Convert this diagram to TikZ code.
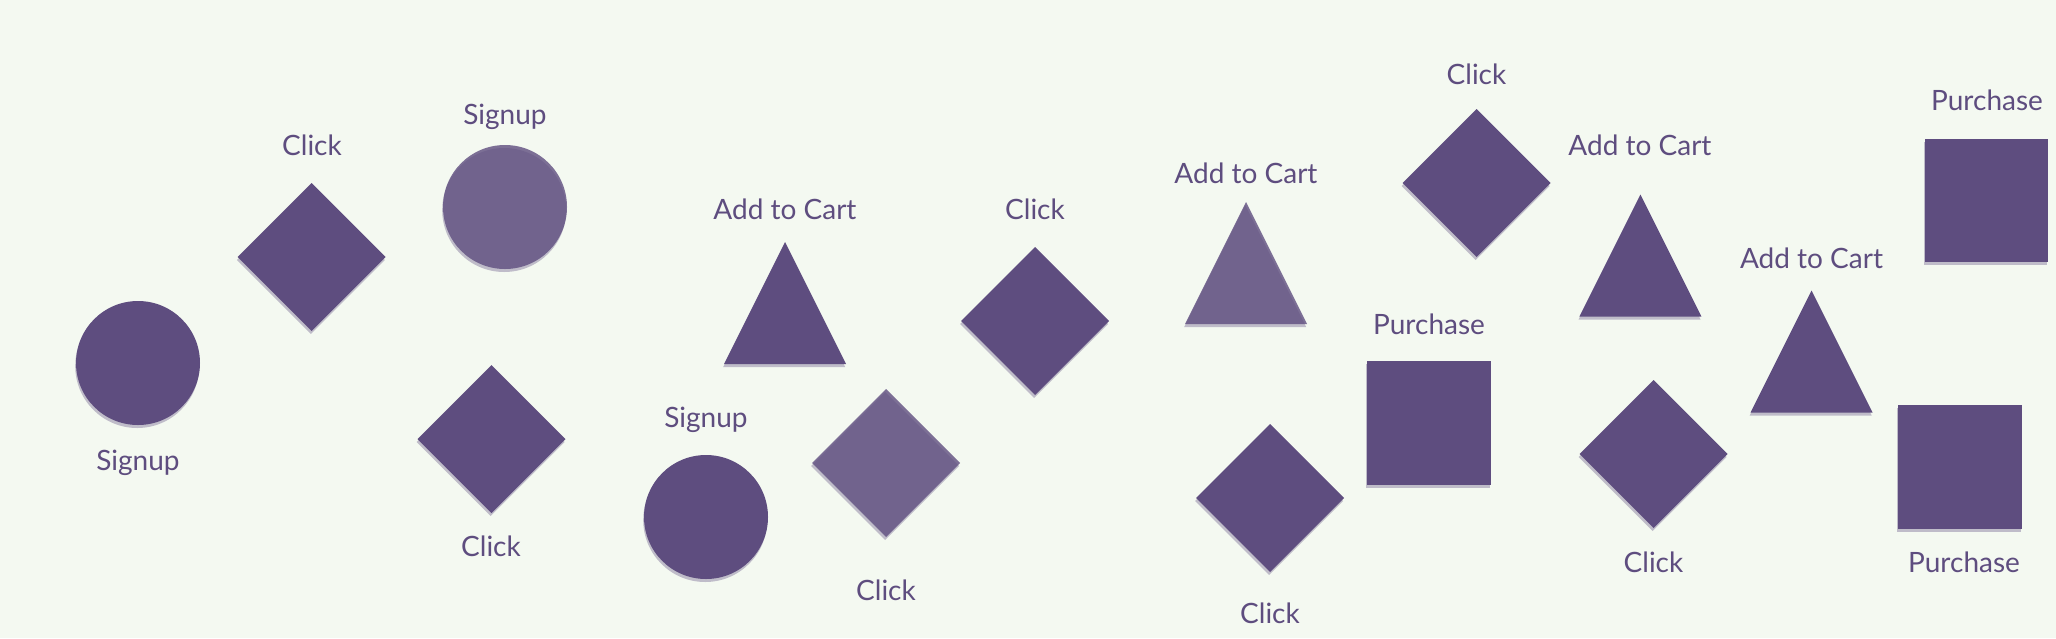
\documentclass[tikz,border=0pt]{standalone}
\usepackage{fontspec}
\setmainfont{Lato}
\usetikzlibrary{shadows}
\definecolor{bg}{HTML}{F4F9F1}
\definecolor{ink}{HTML}{5E4D7F}
\tikzset{
  shp/.style={fill=ink, draw=none,
    drop shadow={shadow xshift=-0.8pt, shadow yshift=-3pt, opacity=0.35, fill=ink}},
  faded/.style={fill opacity=0.8},
  lbl/.style={text=ink, font=\fontsize{28}{32}\selectfont, anchor=base, inner sep=0pt}
}
\newcommand\Dia[3][]{\fill[shp,#1] (#2,#3) ++(0,-74) -- ++(74,74) -- ++(-74,74) -- ++(-74,-74) -- cycle;}
\newcommand\Tri[3][]{\fill[shp,#1] (#2,#3) -- ++(61,122) -- ++(-122,0) -- cycle;}
\newcommand\Circ[3][]{\fill[shp,#1] (#2,#3) circle (62);}
\begin{document}
\begin{tikzpicture}[x=1pt,y=-1pt]
\fill[bg] (0,0) rectangle (2056,638);
\useasboundingbox (0,0) rectangle (2056,638);
% circles
\Circ{138}{363}
\Circ[faded]{505}{207}
\Circ{706}{517}
% diamonds
\Dia{311.6}{257}
\Dia{491.5}{439}
\Dia[faded]{886}{463}
\Dia{1035}{321}
\Dia{1270}{498}
\Dia{1476.5}{183}
\Dia{1653.5}{454}
% triangles
\Tri{785}{242}
\Tri[faded]{1246}{202}
\Tri{1640.4}{194.5}
\Tri{1811.5}{290.5}
% squares
\fill[shp] (1925,139) rectangle (2048,262);
\fill[shp] (1367,361) rectangle (1491,485);
\fill[shp] (1898,405) rectangle (2022,529);
% labels
\node[lbl] (l1) at (138,470) {Signup};
\node[lbl] (l2) at (312,155.5) {Click};
\node[lbl] (l3) at (505,124) {Signup};
\node[lbl] (l4) at (491,556) {Click};
\node[lbl] (l5) at (785,219) {Add to Cart};
\node[lbl] (l6) at (706,427) {Signup};
\node[lbl] (l7) at (886,600) {Click};
\node[lbl] (l8) at (1035,219) {Click};
\node[lbl] (l9) at (1246,183.5) {Add to Cart};
\node[lbl] (l10) at (1270,623.5) {Click};
\node[lbl] (l11) at (1476.5,84.5) {Click};
\node[lbl] (l12) at (1640,155) {Add to Cart};
\node[lbl] (l13) at (1987,110) {Purchase};
\node[lbl] (l14) at (1429,334) {Purchase};
\node[lbl] (l15) at (1653.5,572.5) {Click};
\node[lbl] (l16) at (1811.5,268) {Add to Cart};
\node[lbl] (l17) at (1964,572.5) {Purchase};
\end{tikzpicture}
\end{document}
